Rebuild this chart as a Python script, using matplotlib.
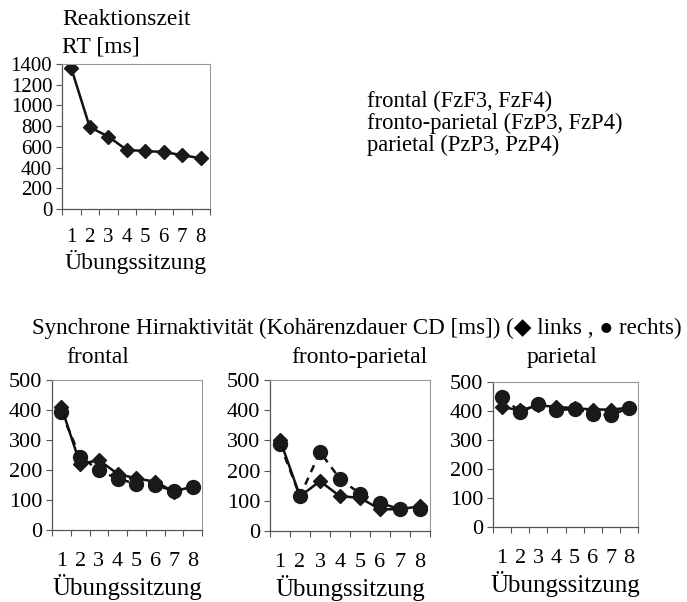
import matplotlib.pyplot as plt
import numpy as np

plt.rcParams['font.family'] = ['Liberation Serif', 'DejaVu Sans']

sessions = [1, 2, 3, 4, 5, 6, 7, 8]
rt = [1360, 790, 700, 570, 560, 550, 520, 490]

frontal_links = [410, 220, 233, 187, 172, 161, 128, 145]
frontal_rechts = [392, 244, 200, 170, 155, 150, 130, 145]
fp_links = [302, 115, 165, 115, 110, 72, 72, 82]
fp_rechts = [288, 115, 262, 172, 124, 93, 72, 72]
par_links = [414, 402, 420, 414, 410, 405, 405, 411]
par_rechts = [448, 397, 423, 402, 408, 391, 385, 411]

W, H = 687, 602
fig = plt.figure(figsize=(W / 100, H / 100), dpi=100)


def box(x0, y0, x1, y1):
    # pixel box -> figure fraction
    return [x0 / W, 1 - y1 / H, (x1 - x0) / W, (y1 - y0) / H]


def style_axes(ax, ymax, ystep, fs):
    ax.set_xlim(0.5, 8.5)
    ax.set_ylim(0, ymax)
    ax.set_yticks(np.arange(0, ymax + 1, ystep))
    ax.set_xticks(sessions)
    ax.set_xticks(np.arange(0.5, 9, 1), minor=True)
    ax.tick_params(axis='x', which='major', length=0, pad=16, labelsize=fs)
    ax.tick_params(axis='x', which='minor', length=4, width=0.8, color='#555555', direction='out')
    ax.tick_params(axis='y', length=4, width=0.8, color='#555555', pad=3, labelsize=fs)
    for s in ['left', 'bottom']:
        ax.spines[s].set_color('#555555')
        ax.spines[s].set_linewidth(0.9)
    for s in ['top', 'right']:
        ax.spines[s].set_color('#999999')
        ax.spines[s].set_linewidth(0.8)


def pair(ax, links, rechts):
    ax.plot(sessions, rechts, color='#111111', lw=1.8, ls=(0, (3, 2.5)),
            marker='o', ms=10, mfc='#1a1a1a', mec='#1a1a1a', zorder=3)
    ax.plot(sessions, links, color='#111111', lw=1.8, ls='-',
            marker='D', ms=7.5, mfc='#1a1a1a', mec='#1a1a1a', zorder=4)


# top chart: reaction time
ax0 = fig.add_axes(box(62, 64, 210, 209))
ax0.plot(sessions, rt, color='#111111', lw=1.8, marker='D', ms=7.5,
         mfc='#1a1a1a', mec='#1a1a1a')
style_axes(ax0, 1400, 200, 15)
ax0.tick_params(axis='x', which='major', pad=14)
ax0.set_xlabel('Übungssitzung', fontsize=17, labelpad=2)

fig.text(62 / W, 1 - 25 / H, 'Reaktionszeit', fontsize=17, va='baseline')
fig.text(62 / W, 1 - 53 / H, 'RT [ms]', fontsize=17, va='baseline')

fig.text(367 / W, 1 - 107 / H, 'frontal (FzF3, FzF4)', fontsize=16.3, va='baseline')
fig.text(367 / W, 1 - 129 / H, 'fronto-parietal (FzP3, FzP4)', fontsize=16.3, va='baseline')
fig.text(367 / W, 1 - 151 / H, 'parietal (PzP3, PzP4)', fontsize=16.3, va='baseline')

fig.text(32 / W, 1 - 334 / H,
         'Synchrone Hirnaktivität (Kohärenzdauer CD [ms]) (\u25c6 links , \u25cf rechts)',
         fontsize=16.6, va='baseline')

panels = [
    ('frontal', box(52, 380, 202, 530), frontal_links, frontal_rechts, 98),
    ('fronto-parietal', box(270, 380, 430, 531), fp_links, fp_rechts, 359),
    ('parietal', box(493, 382, 638, 527), par_links, par_rechts, 562),
]

for name, pos, links, rechts, cx in panels:
    ax = fig.add_axes(pos)
    pair(ax, links, rechts)
    style_axes(ax, 500, 100, 16)
    ax.set_xlabel('Übungssitzung', fontsize=18, labelpad=2)
    fig.text(cx / W, 1 - 363 / H, name, fontsize=17, va='baseline', ha='center')

fig.savefig('out.png', dpi=100)
